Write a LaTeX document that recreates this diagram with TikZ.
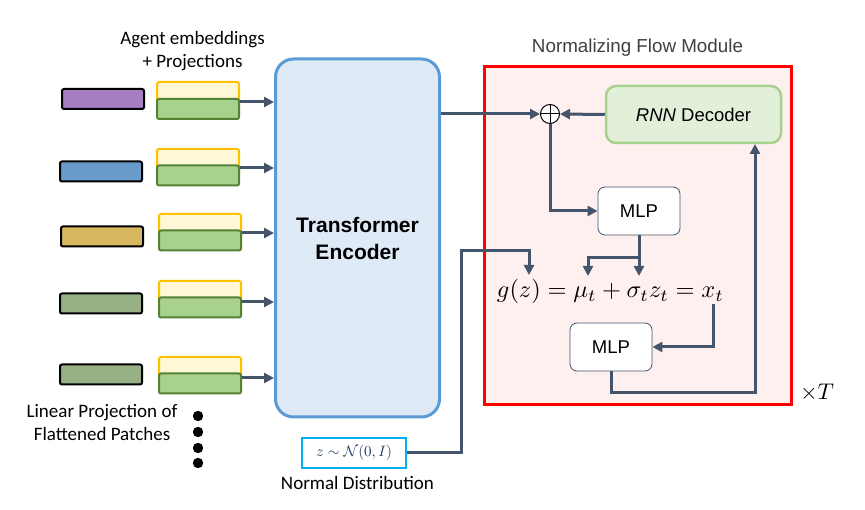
\documentclass[tikz,border=0pt]{standalone}
\usepackage{graphicx}
\usepackage{fontspec}
\setmainfont{Carlito}
\newfontfamily\arial{Liberation Sans}
\usetikzlibrary{arrows.meta,calc}
\definecolor{conn}{HTML}{44546A}
\definecolor{tblue}{HTML}{5B9BD5}
\definecolor{tfill}{HTML}{DEEBF7}
\definecolor{yb}{HTML}{FFC000}
\definecolor{yf}{HTML}{FFF7D6}
\definecolor{gb}{HTML}{548235}
\definecolor{gf}{HTML}{A9D18E}
\definecolor{rgreen}{HTML}{A9D18E}
\definecolor{rfill}{HTML}{E2F0D9}
\definecolor{pinkf}{HTML}{FFF0F0}
\definecolor{zcyan}{HTML}{00B0F0}
\definecolor{zblue}{HTML}{1F3864}
\definecolor{cpurple}{HTML}{A67FC2}
\definecolor{cblue}{HTML}{6A9CCB}
\definecolor{cgold}{HTML}{D6B95E}
\definecolor{cgreen}{HTML}{97B084}
\definecolor{tgray}{HTML}{404040}
\begin{document}
\begin{tikzpicture}[x=1pt,y=-1pt,
  arr/.style={draw=conn,line width=3pt,-{Triangle[length=10pt,width=10pt]}},
  line/.style={draw=conn,line width=3pt},
  bar/.style={draw=black,line width=2pt,rounded corners=2pt,minimum width=82pt,minimum height=20pt,inner sep=0pt},
  ybox/.style={draw=yb,fill=yf,line width=2pt,rounded corners=2pt,minimum width=82pt,minimum height=26pt,inner sep=0pt},
  gbox/.style={draw=gb,fill=gf,line width=2pt,rounded corners=2pt,minimum width=82pt,minimum height=20pt,inner sep=0pt},
  mlp/.style={draw=conn,fill=white,line width=0.8pt,rounded corners=7pt,minimum width=82pt,minimum height=48pt,inner sep=0pt,font=\arial\fontsize{18.5}{20}\selectfont},
  lbl/.style={font=\fontsize{19}{23}\selectfont,align=center,inner sep=0pt}
]
\useasboundingbox (0,0) rectangle (865,510);
% labels
\node[lbl] (la) at (192.5,51) {Agent embeddings\\+ Projections};
\node[lbl] (lp) at (102,423) {Linear Projection of\\Flattened Patches};
% left bars
\node[bar,fill=cpurple] (b1) at (103,99) {};
\node[bar,fill=cblue] (b2) at (101,171.5) {};
\node[bar,fill=cgold] (b3) at (102,236.5) {};
\node[bar,fill=cgreen] (b4) at (101,303.5) {};
\node[bar,fill=cgreen] (b5) at (101,374.5) {};
% yellow + green
\node[ybox] (y1) at (198,95) {};
\node[gbox] (g1) at (198,109) {};
\node[ybox] (y2) at (198,162) {};
\node[gbox] (g2) at (198,175.5) {};
\node[ybox] (y3) at (200,227) {};
\node[gbox] (g3) at (200,240.5) {};
\node[ybox] (y4) at (200,294) {};
\node[gbox] (g4) at (200,307.5) {};
\node[ybox] (y5) at (200,370) {};
\node[gbox] (g5) at (200,383.5) {};
% dots
\foreach \yy in {416,432,448,463} \fill (198,\yy) circle (5.2);
% transformer
\node[draw=tblue,fill=tfill,line width=3pt,rounded corners=18pt,minimum width=164pt,minimum height=358pt,align=center,font=\arial\bfseries\fontsize{21}{27}\selectfont] (T) at (357.5,238) {Transformer\\Encoder};
\foreach \i/\yy in {1/102,2/168,3/233,4/302,5/378}
  \draw[arr] (g\i.east |- 0,\yy) -- (T.west |- 0,\yy);
% z box
\node[draw=zcyan,line width=2pt,minimum width=104pt,minimum height=29pt,inner sep=0pt,text=zblue] (Z) at (354,453) {\resizebox{76pt}{!}{$z\sim\mathcal{N}(0,I)$}};
\node[lbl] (nd) at (357.5,483) {Normal Distribution};
% red module
\node[text=tgray,font=\arial\fontsize{18.8}{21}\selectfont] (nfm) at (637.5,48) {Normalizing Flow Module};
\node[draw=red,fill=pinkf,line width=3pt,minimum width=307pt,minimum height=338pt,inner sep=0pt] (NF) at (638,235.5) {};
\node[draw=rgreen,fill=rfill,line width=2.5pt,rounded corners=10pt,minimum width=175pt,minimum height=57pt,font=\arial\fontsize{18.5}{20}\selectfont] (R) at (693.5,114.5) {\textit{RNN} Decoder};
\node[circle,draw=black,line width=1pt,minimum size=19pt,inner sep=0pt,fill=white] (O) at (550,114) {};
\draw[line width=1pt] (O.north) -- (O.south) (O.west) -- (O.east);
\node[mlp] (M1) at (639,211) {MLP};
\node[mlp] (M2) at (611,347) {MLP};
\node[inner sep=0pt,anchor=base] (F) at (610.5,298) {\resizebox{227pt}{!}{$g(z)=\mu_t+\sigma_t z_t=x_t$}};
\node[inner sep=0pt,anchor=base] (xT) at (817,400) {\resizebox{34pt}{!}{$\times T$}};
\coordinate (mu) at (588,276);
\coordinate (sig) at (639,276);
\coordinate (gz) at (529,275);
\coordinate (xt) at (713,304);
\coordinate (rb) at (755,144);
% connectors
\draw[arr] (T.east |- O) -- (O.west);
\draw[arr] (R.west) -- (O.east);
\draw[arr] (O.south) |- (M1.west);
\draw[arr] (M1.south) -- (sig);
\draw[arr] (M1.south) -- ++(0,22) -| (mu);
\draw[arr] (Z.east) -- (461,453) |- (529,251) -- (gz);
\draw[arr] (xt) |- (M2.east);
\draw[arr] (M2.south) |- (755,393) -- (rb);
\end{tikzpicture}
\end{document}
